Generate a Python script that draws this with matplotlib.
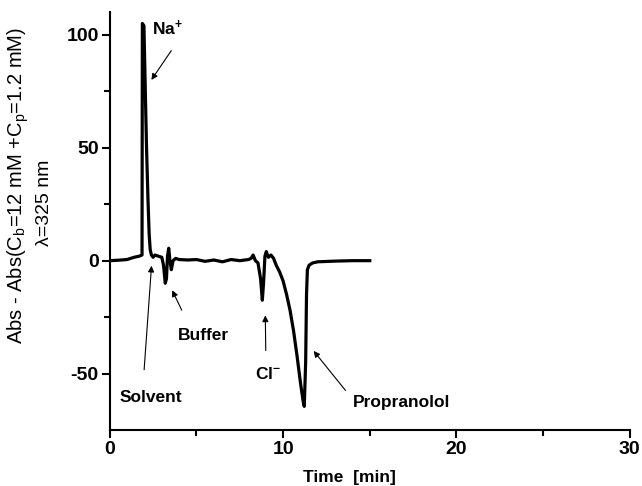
import numpy as np
import matplotlib.pyplot as plt

plt.rcParams['font.family'] = ['Liberation Sans', 'DejaVu Sans']
plt.rcParams['mathtext.fontset'] = 'custom'
plt.rcParams['mathtext.rm'] = 'Liberation Sans'
plt.rcParams['mathtext.bf'] = 'Liberation Sans:bold'
plt.rcParams['mathtext.default'] = 'regular'
plt.rcParams['axes.unicode_minus'] = False

# Electropherogram (time in min, absorbance difference)
tempo = [0, 0.5, 1.0, 1.4, 1.7, 1.86, 1.88, 1.97, 2.05, 2.12, 2.2, 2.27, 2.33, 2.4,
         2.5, 2.6, 2.8, 3.0, 3.1, 3.2, 3.27, 3.33, 3.4, 3.47, 3.55, 3.65, 3.8,
         4.0, 4.5, 5.0, 5.5, 6.0, 6.5, 7.0, 7.5, 8.0, 8.15, 8.27, 8.4, 8.55, 8.7,
         8.8, 8.87, 8.95, 9.03, 9.15, 9.3, 9.45, 9.6, 9.8, 10.0, 10.2, 10.4, 10.6,
         10.8, 11.0, 11.15, 11.22, 11.3, 11.35, 11.4, 11.5, 11.7, 12.0, 13.0, 14.0, 15.0]
segnale = [0, 0.2, 0.5, 1.5, 2.0, 2.5, 105, 104, 75, 50, 28, 12, 5, 2.5,
           1.5, 2.5, 2.0, 1.5, -2, -10, -8, 2, 5.5, 0, -4, 0, 1,
           0.5, 0.3, 0.5, -0.3, 0.3, -0.5, 0.5, 0, 0.5, 1, 2.5, 0, -1, -8,
           -17.5, -10, 2, 4, 1.5, 2.5, 1, -2, -5, -9, -15, -22, -31,
           -42, -54, -62, -64.5, -45, -15, -4, -2, -1, -0.5, -0.2, 0, 0]

# Peak labels: text, text position, arrow tip, arrow start
etichette = ['Na$^\\mathbf{+}$', 'Solvent', 'Buffer', 'Cl$^\\mathbf{-}$', 'Propranolol']
pos_testo = [(3.35, 103), (2.37, -60.5), (5.4, -33), (9.13, -50), (14.0, -63)]
pos_freccia = [(2.31, 79), (2.42, -1), (3.53, -12), (8.97, -23), (11.66, -39)]
inizio_freccia = [(3.64, 94), (1.97, -49.5), (4.22, -23), (9.0, -41), (13.7, -58.4)]

fig = plt.figure(figsize=(6.42, 4.86), dpi=100)
ax = fig.add_axes([0.171, 0.115, 0.81, 0.86])
ax.plot(tempo, segnale, color='black', lw=2.3)

for testo, pt, pf, pi in zip(etichette, pos_testo, pos_freccia, inizio_freccia):
    ha = 'left' if testo == 'Propranolol' else 'center'
    ax.text(pt[0], pt[1], testo, ha=ha, va='center', fontsize=12.5, fontweight='bold')
    ax.annotate('', xy=pf, xytext=pi,
                arrowprops=dict(arrowstyle='-|>', color='black', lw=0.8, mutation_scale=9))

ax.set_xlim(0, 30)
ax.set_ylim(-75, 110)
ax.set_xticks([0, 10, 20, 30])
ax.set_xticks([5, 15, 25], minor=True)
ax.set_yticks([-50, 0, 50, 100])
ax.set_yticks([-25, 25, 75], minor=True)
for s in ['top', 'right']:
    ax.spines[s].set_visible(False)
for s in ['left', 'bottom']:
    ax.spines[s].set_linewidth(1.5)
ax.tick_params(which='major', length=6, width=1.5, labelsize=14, pad=2)
ax.tick_params(which='minor', length=4, width=1.5)
for lab in ax.get_xticklabels() + ax.get_yticklabels():
    lab.set_fontweight('bold')

ax.set_xlabel('Time  [min]', fontsize=12.5, fontweight='bold')
ax.xaxis.set_label_coords(0.46, -0.095)
fig.text(0.029, 0.619, 'Abs - Abs(C$_b$=12 mM +C$_p$=1.2 mM)', rotation=90,
         ha='center', va='center', fontsize=14.5)
fig.text(0.069, 0.582, 'λ=325 nm', rotation=90, ha='center', va='center', fontsize=14)

plt.savefig('out.png', dpi=100)
